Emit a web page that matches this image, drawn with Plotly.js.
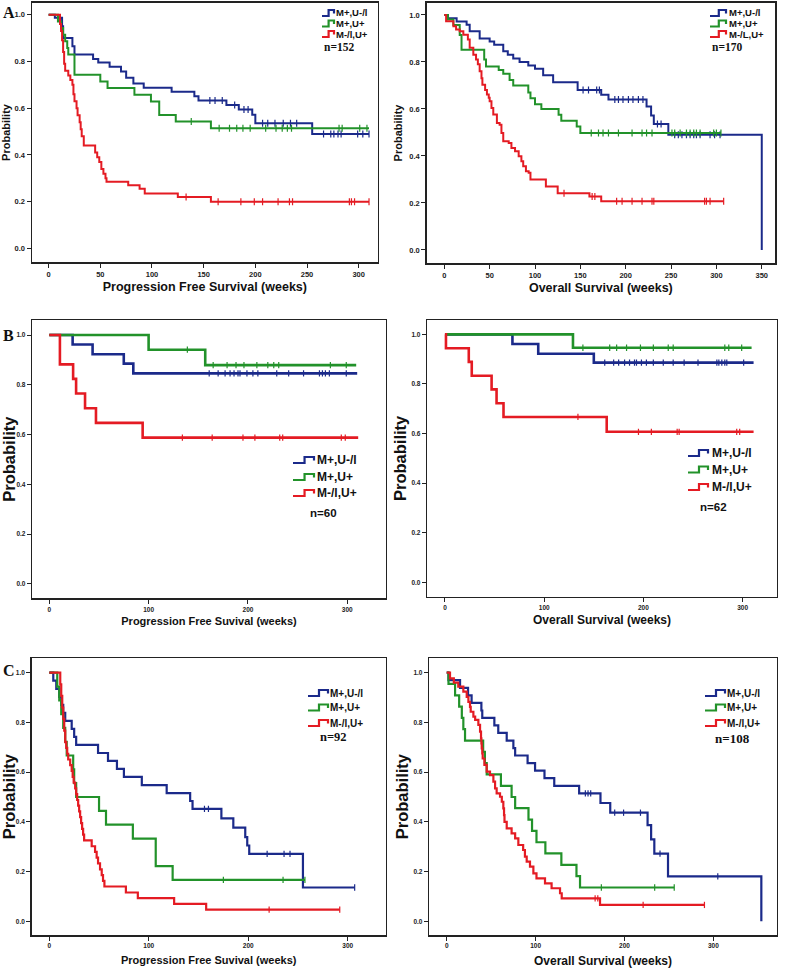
<!DOCTYPE html>
<html><head><meta charset="utf-8">
<script src="https://cdn.plot.ly/plotly-3.0.1.min.js"></script>
<style>html,body{margin:0;padding:0;background:#fff}#chart{width:787px;height:969px}</style>
</head><body><div id="chart"></div>
<script>
// ---------------- DATA (weeks, survival probability) ----------------
// Panel A, Progression Free Survival (n=152)
const aPfsBlueT = [6,13,14,23,25,43,48,59,70,75,82,92,119,141,145,172,184,197,200,255];
const aPfsBlueS = [0.987,0.95,0.90,0.865,0.83,0.81,0.795,0.777,0.757,0.73,0.705,0.687,0.67,0.651,0.633,0.614,0.594,0.572,0.536,0.49];
const aPfsBlueC = [156,161,168,180,189,193,207,212,219,227,234,240,266,273,276,280,283,299,304,310];
const aPfsGreenT = [9,12,14,16,18,19,25,50,57,83,99,107,123,157];
const aPfsGreenS = [0.971,0.943,0.914,0.886,0.857,0.829,0.743,0.714,0.686,0.657,0.629,0.571,0.543,0.514];
const aPfsGreenC = [138,165,175,182,188,195,210,220,226,231,235,281,284,301,308];
const aPfsRedT = [11,12,13,14,15,16,19,21,23,24,25,27,28,30,31,32,34,45,47,49,51,53,55,56,77,88,93,125,157];
const aPfsRedS = [0.96,0.93,0.89,0.84,0.79,0.76,0.74,0.72,0.70,0.66,0.63,0.60,0.57,0.54,0.51,0.48,0.44,0.41,0.39,0.37,0.34,0.32,0.30,0.285,0.27,0.255,0.235,0.22,0.20];
const aPfsRedC = [133,164,186,199,207,222,233,236,291,293,296,310];
const aPfsEnd = [310,310,310];

// Panel A, Overall Survival (n=170)
const aOsBlueT = [4,13.6,24.6,28,39,50,55,65,70,76,83,92.6,100,109,120,147,173,181,223,228,231,247,350];
const aOsBlueS = [0.986,0.972,0.958,0.93,0.90,0.887,0.873,0.845,0.83,0.815,0.80,0.785,0.771,0.743,0.714,0.68,0.66,0.64,0.61,0.572,0.536,0.49,0];
const aOsBlueC = [153,159,168,171,188,192,197,203,208,214,219,235,239,254,258,262,267,271,275,278,282,293,298,304];
const aOsGreenT = [4,10,17,19,44,46,60,65,72,76,92.6,95,100,107,126,129,146,150];
const aOsGreenS = [0.98,0.957,0.915,0.852,0.81,0.78,0.766,0.75,0.723,0.70,0.67,0.645,0.62,0.60,0.575,0.55,0.525,0.497];
const aOsGreenC = [162,170,175,181,192,207,218,223,229,251,254,260,267,271,275,278,282,297,300,305];
const aOsRedT = [2,10,13,17,21,26,28,32,35,37,39,41,42,45,47,49,50,52,54,58,61,63,65,71,74,78,82,85,87,90,93,95,112,125,160,173];
const aOsRedS = [0.973,0.952,0.938,0.93,0.916,0.895,0.86,0.831,0.81,0.79,0.76,0.73,0.703,0.68,0.661,0.647,0.633,0.604,0.576,0.54,0.533,0.498,0.462,0.455,0.434,0.42,0.399,0.377,0.356,0.335,0.328,0.30,0.27,0.241,0.227,0.207];
const aOsRedC = [132,163,166,190,196,207,218,229,231,287,289,293,308];
const aOsEnd = [350,305,308];

// Panel B, Progression Free Survival (n=60)
const bPfsBlueT = [23.5,43.6,75,84.6];
const bPfsBlueS = [0.962,0.923,0.885,0.846];
const bPfsBlueC = [161,170,177,182,186,190,192,199,205,210,229,241,256,272,275,278,282,299];
const bPfsGreenT = [100,157];
const bPfsGreenS = [0.941,0.879];
const bPfsGreenC = [139,165,179,188,196,209,220,226,231,283,299];
const bPfsRedT = [10.7,24,27,36,47,94];
const bPfsRedS = [0.882,0.824,0.765,0.706,0.647,0.588];
const bPfsRedC = [134,164,195,207,232,235,294,298];
const bPfsEnd = [310,309,311];

// Panel B, Overall Survival (n=62)
const bOsBlueT = [68,94,150];
const bOsBlueS = [0.961,0.922,0.886];
const bOsBlueC = [161,170,175,181,186,191,193,198,203,210,220,230,241,255,274,276,279,282,284,301];
const bOsGreenT = [129];
const bOsGreenS = [0.946];
const bOsGreenC = [139,166,173,183,197,210,225,230,282,286,299];
const bOsRedT = [1,24,27,47,52,59,163];
const bOsRedS = [0.944,0.889,0.833,0.778,0.722,0.667,0.607];
const bOsRedC = [134,195,208,234,236,294,297];
const bOsEnd = [311,309,311];

// Panel C, Progression Free Survival (n=92)
const cPfsBlueT = [4,7,10,12,14,16,22.5,25,27,49,59,68,75,93,118,141.6,144,173,185,197,199,201,255];
const cPfsBlueS = [0.968,0.935,0.903,0.871,0.839,0.806,0.774,0.742,0.71,0.677,0.645,0.613,0.581,0.548,0.516,0.484,0.452,0.414,0.377,0.339,0.305,0.271,0.136];
const cPfsBlueC = [156,160,219,236,242,307];
const cPfsGreenT = [8,10,12,14,16,17.5,24,25,27,50,57,84,107,124];
const cPfsGreenS = [0.944,0.889,0.833,0.778,0.722,0.667,0.611,0.556,0.5,0.444,0.389,0.333,0.222,0.167];
const cPfsGreenC = [175,235,257];
const cPfsRedT = [11,12,13,14,15,16,17,18,19,21,22.5,23.5,24.5,26,27,28,29,30,31,32,33,34,35,42.6,46,47.6,49,51,52.7,54,55.4,77,89,125.5,157.7];
const cPfsRedS = [0.953,0.907,0.86,0.814,0.767,0.721,0.698,0.674,0.651,0.628,0.605,0.581,0.558,0.535,0.512,0.488,0.465,0.442,0.419,0.395,0.372,0.349,0.326,0.302,0.279,0.256,0.233,0.209,0.186,0.163,0.14,0.116,0.093,0.07,0.047];
const cPfsRedC = [221,292];
const cPfsEnd = [307,257,292];

// Panel C, Overall Survival (n=108)
const cOsBlueT = [2,15,24,28,39,40,53.6,58,67.5,75,77,91,99.4,110,121,149,173,184,226,230,233.6,249,354];
const cOsBlueS = [0.97,0.939,0.909,0.879,0.848,0.818,0.788,0.758,0.727,0.697,0.667,0.636,0.606,0.576,0.545,0.515,0.476,0.437,0.387,0.33,0.272,0.181,0];
const cOsBlueC = [156,159,162,189,199,218,240,305];
const cOsGreenT = [2,9.4,14,17,18.7,20.6,41,43,45,61,73,77,92,96,101,111,129,146,150];
const cOsGreenS = [0.955,0.909,0.864,0.818,0.773,0.727,0.682,0.636,0.591,0.545,0.5,0.455,0.409,0.364,0.318,0.273,0.227,0.182,0.136];
const cOsGreenC = [174,234,256];
const cOsRedT = [3.7,8,13,18.7,22.5,24.4,26.2,27,30,32,35.6,37.5,38.6,39,39.4,40,40.5,42.4,45,48.7,52.5,54.4,56.2,60,62,63.7,64.5,65,67.5,73,77,80.6,86,88,90,93.7,97.5,101,110.6,118,127.5,129.4,172.5];
const cOsRedS = [0.977,0.96,0.944,0.924,0.903,0.883,0.863,0.843,0.823,0.81,0.79,0.763,0.736,0.716,0.696,0.675,0.655,0.629,0.602,0.588,0.562,0.535,0.515,0.501,0.481,0.454,0.427,0.40,0.374,0.354,0.334,0.307,0.287,0.26,0.24,0.22,0.193,0.173,0.153,0.133,0.113,0.092,0.066];
const cOsRedC = [167,170,221,290];
const cOsEnd = [354,256,290];

const groupLabels = ['M+,U-/l','M+,U+','M-/l,U+'];
const groupLabelsAOs = ['M+,U-/l','M+,U+','M-/L,U+'];
const xTickVals6 = [0,50,100,150,200,250,300];
const xTickVals7 = [0,50,100,150,200,250,300,350];
const xTickVals4 = [0,100,200,300];
const yTickVals = [0,0.2,0.4,0.6,0.8,1.0];

// ---------------- BUILD ----------------
const W = 787, H = 969;
const COLORS = ['#1b2a8a','#22922a','#e41b23'];
const px = v => v / W, py = v => 1 - v / H;

function survAt(T, S, t){ let s = 1; for (let i=0;i<T.length;i++){ if (T[i] <= t) s = S[i]; } return s; }

const panels = [
  {frame:[32,2.7,377.7,262.3], xr:[-16.1,318.4], yr:[-0.059,1.051], ticks:xTickVals6, tfs:7.5,
   xt:'Progression Free Survival (weeks)', xts:12.5, xso:4, yts:11, yso:4, lw:2, ms:5,
   series:[[aPfsBlueT,aPfsBlueS,aPfsBlueC],[aPfsGreenT,aPfsGreenS,aPfsGreenC],[aPfsRedT,aPfsRedS,aPfsRedC]], ends:aPfsEnd,
   leg:{gx:322, gw:12, text:334, rows:[13,23.5,34], fs:9.5, labels:groupLabels, n:'n=152', nx:322, ny:47, nfs:11.5, nfam:'Liberation Serif', nanchor:'left'},
   letter:{t:'A', x:1, y:12}},
  {frame:[426.7,2.7,775,263.3], xr:[-19.4,364.6], yr:[-0.057,1.052], ticks:xTickVals7, tfs:7.5,
   xt:'Overall Survival (weeks)', xts:12.5, xso:4, yts:11, yso:4, lw:2, ms:5,
   series:[[aOsBlueT,aOsBlueS,aOsBlueC],[aOsGreenT,aOsGreenS,aOsGreenC],[aOsRedT,aOsRedS,aOsRedC]], ends:aOsEnd,
   leg:{gx:710, gw:16, text:727, rows:[13,23.5,34], fs:9.5, labels:groupLabelsAOs, n:'n=170', nx:710, ny:47, nfs:11.5, nfam:'Liberation Serif', nanchor:'left'}},
  {frame:[32.3,320,385.7,598.3], xr:[-17.1,338.7], yr:[-0.0575,1.0603], ticks:xTickVals4, tfs:6.5,
   xt:'Progression Free Suvival (weeks)', xts:11, xso:5, yts:16.5, yso:0, lw:2.6, ms:4.5,
   series:[[bPfsBlueT,bPfsBlueS,bPfsBlueC],[bPfsGreenT,bPfsGreenS,bPfsGreenC],[bPfsRedT,bPfsRedS,bPfsRedC]], ends:bPfsEnd,
   leg:{gx:293, gw:21, text:315, rows:[460,477,493], fs:12, labels:groupLabels, n:'n=60', nx:323, ny:513, nfs:11.5, nfam:'Liberation Sans', nanchor:'center'},
   letter:{t:'B', x:1, y:335}},
  {frame:[427.3,320,776.7,596.7], xr:[-17.8,334.3], yr:[-0.058,1.058], ticks:xTickVals4, tfs:6.5,
   xt:'Overall Survival (weeks)', xts:12, xso:5, yts:16.5, yso:0, lw:2.6, ms:4.5,
   series:[[bOsBlueT,bOsBlueS,bOsBlueC],[bOsGreenT,bOsGreenS,bOsGreenC],[bOsRedT,bOsRedS,bOsRedC]], ends:bOsEnd,
   leg:{gx:688, gw:20, text:710, rows:[453,469.5,487], fs:12, labels:groupLabels, n:'n=62', nx:713, ny:507, nfs:11.5, nfam:'Liberation Sans', nanchor:'center'}},
  {frame:[31.7,658.3,385.7,935], xr:[-17.7,338.2], yr:[-0.055,1.058], ticks:xTickVals4, tfs:6.5,
   xt:'Progression Free Suvival (weeks)', xts:11, xso:8, yts:16.5, yso:0, lw:2.2, ms:4.5,
   series:[[cPfsBlueT,cPfsBlueS,cPfsBlueC],[cPfsGreenT,cPfsGreenS,cPfsGreenC],[cPfsRedT,cPfsRedS,cPfsRedC]], ends:cPfsEnd,
   leg:{gx:308, gw:20, text:328, rows:[693,707.5,723], fs:10, labels:groupLabels, n:'n=92', nx:333, ny:737, nfs:12.5, nfam:'Liberation Serif', nanchor:'center'},
   letter:{t:'C', x:1, y:670}},
  {frame:[429.3,658.3,776.7,935], xr:[-19.6,371.3], yr:[-0.055,1.058], ticks:xTickVals4, tfs:6.5,
   xt:'Overall Survival (weeks)', xts:12, xso:8, yts:16.5, yso:0, lw:2.2, ms:4.5,
   series:[[cOsBlueT,cOsBlueS,cOsBlueC],[cOsGreenT,cOsGreenS,cOsGreenC],[cOsRedT,cOsRedS,cOsRedC]], ends:cOsEnd,
   leg:{gx:705, gw:20, text:725, rows:[693,707.5,723], fs:10, labels:groupLabels, n:'n=108', nx:732, ny:738, nfs:13, nfam:'Liberation Serif', nanchor:'center'}}
];

const data = [];
const layout = {
  width: W, height: H, margin:{l:0,r:0,t:0,b:0},
  paper_bgcolor:'#fff', plot_bgcolor:'#fff', showlegend:false,
  font:{family:'Liberation Sans, Arial, sans-serif', color:'#111'},
  annotations:[], shapes:[]
};

panels.forEach((p, i) => {
  const k = i === 0 ? '' : String(i+1);
  const xa = 'x' + k, ya = 'y' + k;
  p.series.forEach((s, j) => {
    const [T, S, C] = s;
    const end = p.ends[j];
    data.push({
      type:'scatter', mode:'lines', xaxis:xa, yaxis:ya,
      x:[0].concat(T, [end]), y:[1].concat(S, [S[S.length-1]]),
      line:{shape:'hv', color:COLORS[j], width:p.lw}, hoverinfo:'skip', name:p.leg.labels[j]
    });
    data.push({
      type:'scatter', mode:'markers', xaxis:xa, yaxis:ya,
      x:C, y:C.map(t => survAt(T, S, t)),
      marker:{symbol:'line-ns', size:p.ms, color:COLORS[j], line:{color:COLORS[j], width:1.2}},
      hoverinfo:'skip', name:p.leg.labels[j] + ' censored'
    });
  });
  const f = p.frame;
  layout['xaxis' + k] = {
    domain:[px(f[0]), px(f[2])], range:p.xr, anchor:ya,
    showline:true, mirror:true, linecolor:'#222', linewidth:1.5,
    ticks:'outside', ticklen:4, tickwidth:1, tickcolor:'#222',
    tickvals:p.ticks, showgrid:false, zeroline:false,
    tickfont:{size:p.tfs, weight:'bold', color:'#222'},
    title:{text:p.xt, standoff:p.xso, font:{size:p.xts, weight:'bold', color:'#111'}}
  };
  layout['yaxis' + k] = {
    domain:[py(f[3]), py(f[1])], range:p.yr, anchor:xa,
    showline:true, mirror:true, linecolor:'#222', linewidth:1.5,
    ticks:'outside', ticklen:4, tickwidth:1, tickcolor:'#222',
    tickvals:yTickVals, tickformat:'.1f', showgrid:false, zeroline:false,
    tickfont:{size:p.tfs, weight:'bold', color:'#222'},
    title:{text:'Probability', standoff:p.yso, font:{size:p.yts, weight:'bold', color:'#111'}}
  };
  // legend glyphs and labels
  const L = p.leg;
  L.rows.forEach((ry, j) => {
    const gh = 6;
    const x0 = L.gx, x1 = L.gx + L.gw*0.55, x2 = L.gx + L.gw;
    const yb = ry + gh/2, yt = ry - gh/2;
    layout.shapes.push({
      type:'path', xref:'paper', yref:'paper',
      path:`M ${px(x0)} ${py(yb)} L ${px(x1)} ${py(yb)} L ${px(x1)} ${py(yt)} L ${px(x2)} ${py(yt)} L ${px(x2)} ${py(yt+gh*0.6)}`,
      line:{color:COLORS[j], width:2.2}
    });
    layout.annotations.push({
      xref:'paper', yref:'paper', x:px(L.text), y:py(ry), xanchor:'left', yanchor:'middle',
      text:L.labels[j], showarrow:false,
      font:{size:L.fs, weight:'bold', family:'Liberation Sans Narrow, Liberation Sans, Arial, sans-serif', color:'#111'}
    });
  });
  layout.annotations.push({
    xref:'paper', yref:'paper', x:px(L.nx), y:py(L.ny), xanchor:L.nanchor, yanchor:'middle',
    text:L.n, showarrow:false, font:{size:L.nfs, weight:'bold', family:L.nfam, color:'#111'}
  });
  if (p.letter) {
    layout.annotations.push({
      xref:'paper', yref:'paper', x:px(p.letter.x), y:py(p.letter.y), xanchor:'left', yanchor:'middle',
      text:p.letter.t, showarrow:false, font:{size:16, weight:'bold', family:'Liberation Serif, Times New Roman, serif', color:'#111'}
    });
  }
});

Plotly.newPlot('chart', data, layout, {displayModeBar:false, staticPlot:true});
</script></body></html>
